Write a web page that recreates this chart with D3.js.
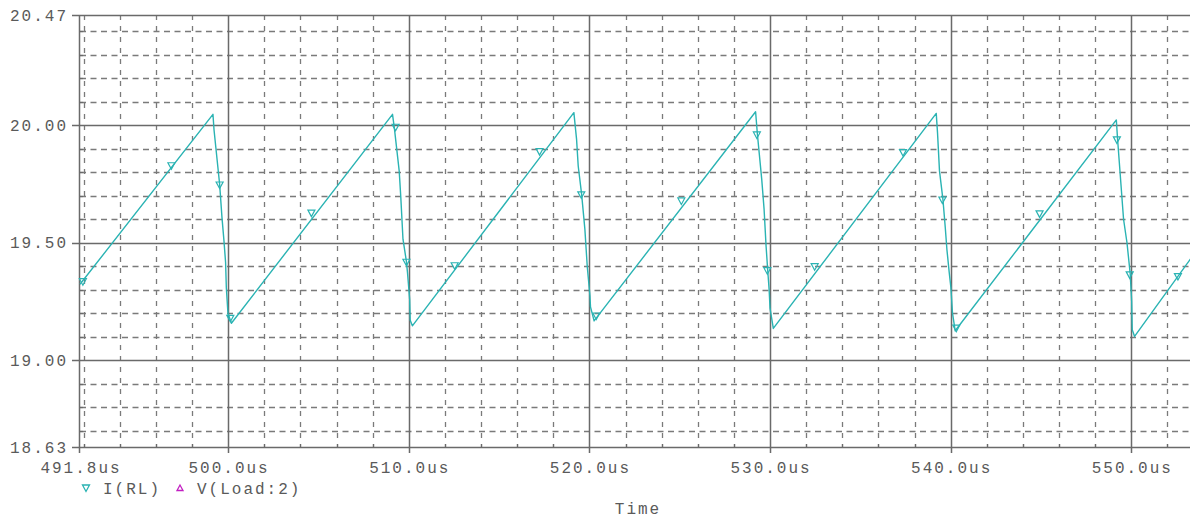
<!DOCTYPE html>
<html>
<head>
<meta charset="utf-8">
<script src="https://cdn.jsdelivr.net/npm/d3@7/dist/d3.min.js"></script>
<style>
  html, body { margin: 0; padding: 0; background: #ffffff; }
  svg { display: block; }
  text { font-family: "Liberation Mono", "DejaVu Sans Mono", monospace; fill: #5a5a5a; }
</style>
</head>
<body>
<svg id="chart" width="1190" height="518"></svg>
<script>
// Simulated load current I(RL) versus time (us, A)
const traceTime = [
  491.8, 499.16, 499.22, 499.53, 499.66, 499.77, 499.86, 499.9, 499.99, 500.18,
  509.1, 509.2, 509.47, 509.56, 509.68, 509.87, 509.93, 510.05, 510.08, 510.2,
  519.14, 519.29, 519.38, 519.57, 519.75, 519.88, 520.0, 520.03, 520.06, 520.26,
  529.2, 529.3, 529.54, 529.67, 529.78, 529.87, 529.95, 530.0, 530.18,
  539.2, 539.27, 539.38, 539.57, 539.7, 539.79, 539.92, 540.01, 540.1, 540.25,
  549.17, 549.24, 549.35, 549.57, 549.76, 549.94, 550.02, 550.05, 550.18,
  553.5
];
const traceValue = [
  19.323, 20.047, 19.98, 19.749, 19.607, 19.508, 19.416, 19.31, 19.20, 19.157,
  20.047, 19.99, 19.806, 19.692, 19.515, 19.42, 19.373, 19.26, 19.17, 19.146,
  20.054, 19.94, 19.827, 19.706, 19.557, 19.40, 19.30, 19.275, 19.227, 19.167,
  20.058, 19.962, 19.77, 19.643, 19.486, 19.384, 19.30, 19.22, 19.135,
  20.051, 19.97, 19.806, 19.685, 19.565, 19.472, 19.373, 19.31, 19.20, 19.125,
  20.023, 19.94, 19.827, 19.60, 19.50, 19.366, 19.25, 19.13, 19.101,
  19.455
];

// Data-point symbols placed along the I(RL) trace
const markerTime = [
  491.96, 496.86, 499.53, 500.12, 504.61, 509.27, 509.87, 512.54, 517.24, 519.55, 520.38,
  525.09, 529.27, 529.85, 532.47, 537.36, 539.54, 540.31, 544.92, 549.2, 549.91, 552.58
];
const markerValue = [
  19.334, 19.828, 19.746, 19.178, 19.626, 19.992, 19.417, 19.402, 19.888, 19.704, 19.188,
  19.678, 19.959, 19.381, 19.398, 19.884, 19.682, 19.136, 19.623, 19.938, 19.363, 19.356
];

// Axis ticks and labels
const yLabelValues = [20.47, 20.00, 19.50, 19.00, 18.63];
const ySolidValues = [20.0, 19.5, 19.0];
const yDashedValues = [20.4, 20.3, 20.2, 20.1, 19.9, 19.8, 19.7, 19.6, 19.4, 19.3, 19.2, 19.1, 18.9, 18.8, 18.7];
const xLabelValues = [491.8, 500, 510, 520, 530, 540, 550];
const xLabelText = ["491.8us", "500.0us", "510.0us", "520.0us", "530.0us", "540.0us", "550.0us"];
const xSolidValues = [500, 510, 520, 530, 540, 550];
const xDashedValues = [492, 494, 496, 498, 502, 504, 506, 508, 512, 514, 516, 518, 522, 524, 526, 528,
                       532, 534, 536, 538, 542, 544, 546, 548, 552];
const legendNames = ["I(RL)", "V(Load:2)"];
const legendColors = ["#2ab3b3", "#c21fc2"];

const plot = { left: 80, top: 15, bottom: 447 };
const x = d3.scaleLinear().domain([491.8, 553.5]).range([plot.left, plot.left + (553.5 - 491.8) * 18.064]);
const y = d3.scaleLinear().domain([18.63, 20.47]).range([plot.bottom, plot.top]);

const svg = d3.select("#chart");
const W = 1190;
const gridColor = "#7a7a7a";
const solidColor = "#6a6a6a";

// dashed minor grid
svg.append("g").selectAll("line").data(yDashedValues).join("line")
  .attr("x1", plot.left).attr("x2", W)
  .attr("y1", d => Math.round(y(d)) + 0.5).attr("y2", d => Math.round(y(d)) + 0.5)
  .attr("stroke", gridColor).attr("stroke-width", 1.3).attr("stroke-dasharray", "6,4.5");
svg.append("g").selectAll("line").data(xDashedValues).join("line")
  .attr("x1", d => Math.round(x(d)) + 0.5).attr("x2", d => Math.round(x(d)) + 0.5)
  .attr("y1", plot.top).attr("y2", plot.bottom)
  .attr("stroke", gridColor).attr("stroke-width", 1.3).attr("stroke-dasharray", "5,6");

// solid major grid
svg.append("g").selectAll("line").data(ySolidValues).join("line")
  .attr("x1", plot.left - 8).attr("x2", W)
  .attr("y1", d => Math.round(y(d)) + 0.5).attr("y2", d => Math.round(y(d)) + 0.5)
  .attr("stroke", solidColor).attr("stroke-width", 1.5);
svg.append("g").selectAll("line").data(xSolidValues).join("line")
  .attr("x1", d => Math.round(x(d)) + 0.5).attr("x2", d => Math.round(x(d)) + 0.5)
  .attr("y1", plot.top).attr("y2", plot.bottom + 6)
  .attr("stroke", solidColor).attr("stroke-width", 1.5);

// frame: top border, left axis, bottom axis
svg.append("line").attr("x1", plot.left - 8).attr("x2", W).attr("y1", plot.top + 0.5).attr("y2", plot.top + 0.5)
  .attr("stroke", solidColor).attr("stroke-width", 1.5);
svg.append("line").attr("x1", plot.left - 8).attr("x2", W).attr("y1", plot.bottom + 0.5).attr("y2", plot.bottom + 0.5)
  .attr("stroke", solidColor).attr("stroke-width", 1.5);
svg.append("line").attr("x1", plot.left - 0.5).attr("x2", plot.left - 0.5).attr("y1", plot.top).attr("y2", plot.bottom + 6)
  .attr("stroke", solidColor).attr("stroke-width", 1.5);

// small inward ticks
svg.append("g").selectAll("line").data(yDashedValues).join("line")
  .attr("x1", plot.left).attr("x2", plot.left + 3)
  .attr("y1", d => Math.round(y(d)) + 0.5).attr("y2", d => Math.round(y(d)) + 0.5)
  .attr("stroke", solidColor).attr("stroke-width", 1.2);
svg.append("g").selectAll("line").data(xDashedValues).join("line")
  .attr("x1", d => Math.round(x(d)) + 0.5).attr("x2", d => Math.round(x(d)) + 0.5)
  .attr("y1", plot.bottom - 3).attr("y2", plot.bottom)
  .attr("stroke", solidColor).attr("stroke-width", 1.2);

// y labels
svg.append("g").selectAll("text").data(yLabelValues).join("text")
  .attr("x", plot.left - 12).attr("y", d => y(d))
  .attr("dy", "0.36em").attr("text-anchor", "end")
  .attr("font-size", 16).attr("letter-spacing", 2)
  .text(d => d.toFixed(2));

// x labels
svg.append("g").selectAll("text").data(xLabelValues).join("text")
  .attr("x", d => x(d) + 1).attr("y", 473)
  .attr("text-anchor", "middle")
  .attr("font-size", 16).attr("letter-spacing", 2)
  .text((d, i) => xLabelText[i]);

// axis title
svg.append("text").attr("x", 638).attr("y", 514).attr("text-anchor", "middle")
  .attr("font-size", 16).attr("letter-spacing", 2).text("Time");

// trace
const pts = traceTime.map((t, i) => [t, traceValue[i]]);
const line = d3.line().x(d => x(d[0])).y(d => y(d[1]));
svg.append("path").datum(pts)
  .attr("d", line)
  .attr("fill", "none").attr("stroke", legendColors[0]).attr("stroke-width", 1.4)
  .attr("stroke-linejoin", "round");

// triangle symbols
const downTri = "M-3.5,-3 L3.5,-3 L0,3.5 Z";
const upTri = "M-3,2.5 L3,2.5 L0,-3 Z";
svg.append("g").selectAll("path").data(markerTime).join("path")
  .attr("transform", (d, i) => `translate(${x(d)},${y(markerValue[i])})`)
  .attr("d", downTri)
  .attr("fill", "none").attr("stroke", legendColors[0]).attr("stroke-width", 1.2);

// legend
const legend = svg.append("g");
const legendX = [86, 180];
legend.selectAll("path").data(legendNames).join("path")
  .attr("transform", (d, i) => `translate(${legendX[i]},488)`)
  .attr("d", (d, i) => i === 0 ? downTri : upTri)
  .attr("fill", "none").attr("stroke", (d, i) => legendColors[i]).attr("stroke-width", 1.3);
legend.selectAll("text").data(legendNames).join("text")
  .attr("x", (d, i) => legendX[i] + 17).attr("y", 494)
  .attr("font-size", 16).attr("letter-spacing", 2)
  .text(d => d);
</script>
</body>
</html>
